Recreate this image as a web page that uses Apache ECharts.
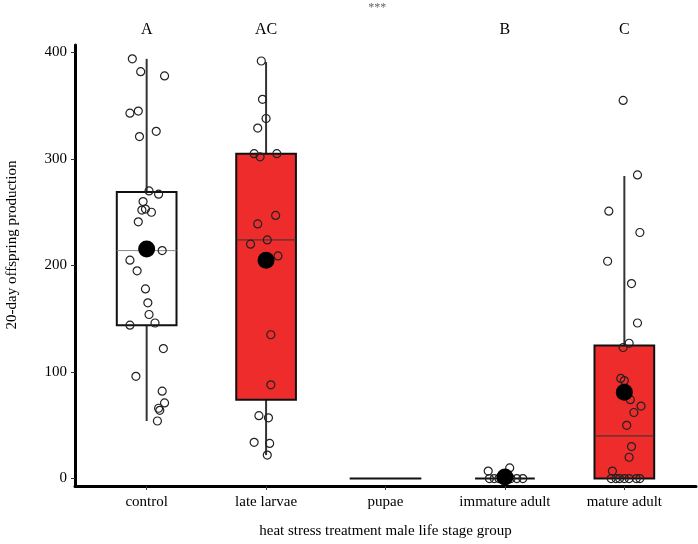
<!DOCTYPE html>
<html>
<head>
<meta charset="utf-8">
<script src="https://cdn.jsdelivr.net/npm/echarts@6/dist/echarts.min.js"></script>
<style>
  html, body { margin: 0; padding: 0; background: #fff; }
  #main { width: 698px; height: 544px; }
</style>
</head>
<body>
<div id="main"></div>
<script>
// groups on the x axis
const groups = ['control', 'late larvae', 'pupae', 'immature adult', 'mature adult'];
const letters = ['A', 'AC', '', 'B', 'C'];
const yTicks = [0, 100, 200, 300, 400];

// box stats: [low whisker, q1, median, q3, high whisker]
const boxStats = [
  [54, 144, 214, 269, 394],
  [22, 74, 224, 305, 391],
  [0, 0, 0, 0, 0],
  [0, 0, 0, 0, 0],
  [0, 0, 40, 125, 284]
];
const boxFill = ['#ffffff', '#ee2c2c', '#ffffff', '#ffffff', '#ee2c2c'];
const boxWidth = [0.5, 0.5, 0.6, 0.5, 0.5];

// group means (big black dots)
const means = [215.5, 205, null, 1.5, 81];

// raw observations and their horizontal jitter
const ctrlY = [394, 382, 378, 343, 345, 326, 321, 270, 267, 260, 252, 253, 250, 241, 214, 205, 195, 178, 165, 154, 146, 144, 122, 96, 82, 71, 66, 64, 54];
const ctrlJ = [-0.12, -0.05, 0.15, -0.14, -0.07, 0.08, -0.06, 0.02, 0.10, -0.03, -0.04, -0.01, 0.04, -0.07, 0.13, -0.14, -0.08, -0.01, 0.01, 0.02, 0.07, -0.14, 0.14, -0.09, 0.13, 0.15, 0.10, 0.11, 0.09];
const larvY = [392, 356, 338, 329, 305, 302, 305, 247, 239, 224, 220, 209, 135, 88, 59, 57, 34, 33, 22];
const larvJ = [-0.04, -0.03, 0, -0.07, -0.10, -0.05, 0.09, 0.08, -0.07, 0.01, -0.13, 0.10, 0.04, 0.04, -0.06, 0.02, -0.10, 0.03, 0.01];
const immY = [0, 0, 0, 0, 0, 0, 0, 7, 10];
const immJ = [-0.13, -0.09, -0.05, 0, 0.05, 0.10, 0.15, -0.14, 0.04];
const matY = [355, 285, 251, 231, 204, 183, 146, 127, 123, 94, 92, 74, 68, 62, 50, 30, 20, 7, 0, 0, 0, 0, 0, 0, 0];
const matJ = [-0.01, 0.11, -0.13, 0.13, -0.14, 0.06, 0.11, 0.04, -0.01, -0.03, 0, 0.05, 0.14, 0.08, 0.02, 0.06, 0.04, -0.10, -0.11, -0.07, -0.04, 0, 0.04, 0.10, 0.13];

const obs = [[0, ctrlY, ctrlJ], [1, larvY, larvJ], [3, immY, immJ], [4, matY, matJ]];
const pointData = [];
obs.forEach(function (o) {
  o[1].forEach(function (v, i) { pointData.push([o[0] + o[2][i], v]); });
});

const serif = 'Liberation Serif';
const chart = echarts.init(document.getElementById('main'));

chart.setOption({
  animation: false,
  grid: { left: 75, right: 2, top: 45, bottom: 57 },
  xAxis: {
    type: 'value',
    min: -0.6,
    max: 4.6,
    name: 'heat stress treatment male life stage group',
    nameLocation: 'middle',
    nameGap: 38,
    nameTextStyle: { fontFamily: serif, fontSize: 15, color: '#000' },
    axisLine: { show: true, onZero: false, lineStyle: { color: '#000', width: 3 } },
    axisTick: { show: true, customValues: [0, 1, 2, 3, 4], length: 4, lineStyle: { color: '#333' } },
    axisLabel: {
      customValues: [0, 1, 2, 3, 4],
      formatter: function (v) { return groups[Math.round(v)]; },
      fontFamily: serif, fontSize: 15, color: '#000', margin: 9
    },
    splitLine: { show: false }
  },
  yAxis: {
    type: 'value',
    min: -7,
    max: 407,
    axisLine: { show: true, onZero: false, lineStyle: { color: '#000', width: 3 } },
    axisTick: { show: true, customValues: yTicks, length: 4, lineStyle: { color: '#333' } },
    axisLabel: { customValues: yTicks, fontFamily: serif, fontSize: 15, color: '#000', margin: 8 },
    splitLine: { show: false }
  },
  graphic: [{
    type: 'text',
    x: 12, y: 245,
    rotation: Math.PI / 2,
    style: {
      text: '20-day offspring production',
      font: '15px "Liberation Serif"',
      fill: '#000',
      align: 'center',
      verticalAlign: 'middle'
    }
  }],
  series: [
    {
      type: 'custom',
      z: 2,
      data: boxStats.map(function (s, i) { return [i].concat(s); }),
      renderItem: function (params, api) {
        const i = api.value(0);
        const hw = boxWidth[i] / 2;
        const lo = api.coord([i, api.value(1)]);
        const q1 = api.coord([i - hw, api.value(2)]);
        const md = api.value(3);
        const q3 = api.coord([i + hw, api.value(4)]);
        const hi = api.coord([i, api.value(5)]);
        const mL = api.coord([i - hw, md]);
        const mR = api.coord([i + hw, md]);
        const children = [];
        if (hi[1] < q3[1]) {
          children.push({ type: 'line', shape: { x1: hi[0], y1: hi[1], x2: hi[0], y2: q3[1] }, style: { stroke: '#333', lineWidth: 2 } });
        }
        if (lo[1] > q1[1]) {
          children.push({ type: 'line', shape: { x1: lo[0], y1: q1[1], x2: lo[0], y2: lo[1] }, style: { stroke: '#333', lineWidth: 2 } });
        }
        children.push({
          type: 'rect',
          shape: { x: q1[0], y: q3[1], width: q3[0] - q1[0], height: q1[1] - q3[1] },
          style: { fill: boxFill[i], stroke: '#111', lineWidth: 2 }
        });
        if (q1[1] - q3[1] > 1) {
          children.push({
            type: 'line',
            shape: { x1: mL[0], y1: mL[1], x2: mR[0], y2: mR[1] },
            style: { stroke: boxFill[i] === '#ffffff' ? '#888' : '#333', lineWidth: 1 }
          });
        }
        return { type: 'group', children: children };
      }
    },
    {
      type: 'scatter',
      z: 3,
      symbol: 'circle',
      symbolSize: 8,
      itemStyle: { color: 'rgba(0,0,0,0)', borderColor: '#222', borderWidth: 1.2, opacity: 1 },
      data: pointData
    },
    {
      type: 'scatter',
      z: 4,
      symbol: 'circle',
      symbolSize: 17,
      itemStyle: { color: '#000', opacity: 1 },
      data: means.map(function (m, i) { return m === null ? null : [i, m]; }).filter(function (d) { return d; })
    },
    {
      type: 'scatter',
      z: 5,
      clip: false,
      symbolSize: 0,
      silent: true,
      itemStyle: { opacity: 1 },
      label: {
        show: true,
        position: 'inside',
        formatter: function (p) { return p.data[2]; },
        fontFamily: serif, fontSize: 16, color: '#000'
      },
      data: letters.map(function (l, i) { return [i, 421, l]; }).filter(function (d) { return d[2]; })
    },
    {
      type: 'scatter',
      z: 5,
      clip: false,
      symbolSize: 0,
      silent: true,
      itemStyle: { opacity: 1 },
      label: {
        show: true,
        position: 'inside',
        formatter: '***',
        fontFamily: serif, fontSize: 12, color: '#666'
      },
      data: [[1.93, 442]]
    }
  ]
});
</script>
</body>
</html>
